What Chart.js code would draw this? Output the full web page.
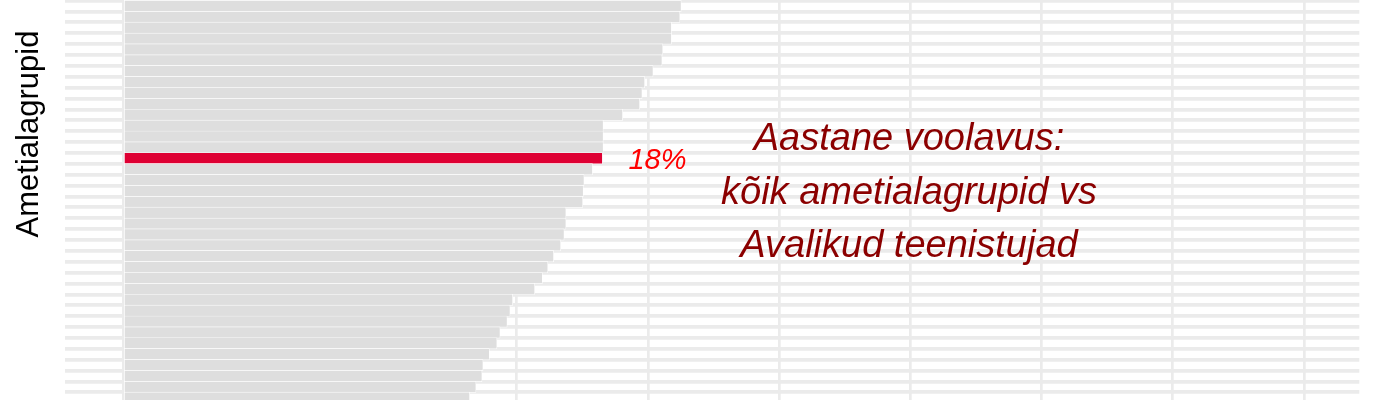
<!DOCTYPE html>
<html>
<head>
<meta charset="utf-8">
<script src="https://cdn.jsdelivr.net/npm/chart.js@4"></script>
<style>
  html, body { margin: 0; padding: 0; background: #fff; }
  #wrap { width: 1400px; height: 400px; }
</style>
</head>
<body>
<div id="wrap"><canvas id="myChart"></canvas></div>
<script>
// ametialagrupid, sorted by yearly turnover (only the visible part of the chart)
const categories = [
  "Grupp 01", "Grupp 02", "Grupp 03", "Grupp 04", "Grupp 05", "Grupp 06",
  "Grupp 07", "Grupp 08", "Grupp 09", "Grupp 10", "Grupp 11", "Grupp 12",
  "Grupp 13", "Grupp 14", "Avalikud teenistujad", "Grupp 16", "Grupp 17",
  "Grupp 18", "Grupp 19", "Grupp 20", "Grupp 21", "Grupp 22", "Grupp 23",
  "Grupp 24", "Grupp 25", "Grupp 26", "Grupp 27", "Grupp 28", "Grupp 29",
  "Grupp 30", "Grupp 31", "Grupp 32", "Grupp 33", "Grupp 34", "Grupp 35",
  "Grupp 36", "Grupp 37"
];
const voolavus = [
  21.27, 21.22, 20.90, 20.90, 20.57, 20.54, 20.20, 19.88, 19.78, 19.69,
  19.04, 18.30, 18.30, 18.30, 18.27, 17.89, 17.57, 17.54, 17.52, 16.88,
  16.88, 16.81, 16.68, 16.41, 16.19, 15.98, 15.69, 14.85, 14.75, 14.64,
  14.37, 14.25, 13.96, 13.72, 13.68, 13.45, 13.21
];
const highlight = "Avalikud teenistujad";
const highlightLabel = "18%";
const xTicks = [0, 5, 10, 15, 20, 25, 30, 35, 40, 45];
const yTitle = "Ametialagrupid";
const noteLines = ["Aastane voolavus:", "kõik ametialagrupid vs", "Avalikud teenistujad"];

const hi = categories.indexOf(highlight);

const textPlugin = {
  id: "texts",
  afterDatasetsDraw(chart) {
    const ctx = chart.ctx;
    const x = chart.scales.x, y = chart.scales.y;
    ctx.save();
    // label next to the highlighted bar
    ctx.fillStyle = "#ff0000";
    ctx.font = "italic 29px 'Liberation Sans', Arial, sans-serif";
    ctx.textAlign = "left";
    ctx.textBaseline = "alphabetic";
    ctx.fillText(highlightLabel, x.getPixelForValue(voolavus[hi]) + 26, y.getPixelForValue(hi) + 11);

    // annotation
    ctx.fillStyle = "#8b0000";
    ctx.font = "italic 38px 'Liberation Sans', Arial, sans-serif";
    ctx.textAlign = "center";
    noteLines.forEach((t, i) => ctx.fillText(t, 909, 150 + i * 53.5));

    // y axis title
    ctx.translate(29, 134);
    ctx.rotate(-Math.PI / 2);
    ctx.fillStyle = "#000";
    ctx.font = "31px 'Liberation Sans', Arial, sans-serif";
    ctx.textBaseline = "middle";
    ctx.fillText(yTitle, 0, 0);
    ctx.restore();
  }
};

const config = {
  type: "bar",
  data: {
    labels: categories,
    datasets: [{
      data: voolavus.map((v, i) => ({ x: v, y: i })),
      backgroundColor: categories.map(c => c === highlight ? "#de0033" : "#dedede"),
      barThickness: 11.18,
      borderWidth: 0.7,
      borderColor: "#ffffff",
      borderSkipped: false
    }]
  },
  options: {
    indexAxis: "y",
    responsive: true,
    maintainAspectRatio: false,
    devicePixelRatio: 1,
    animation: false,
    layout: { padding: { left: 65, right: 40.7, top: 0, bottom: 0 } },
    plugins: { legend: { display: false }, tooltip: { enabled: false } },
    scales: {
      x: {
        type: "linear",
        min: -2.21,
        max: 47.11,
        afterBuildTicks: s => { s.ticks = xTicks.map(v => ({ value: v })); },
        afterFit: s => { s.height = 0; },
        ticks: { display: false },
        border: { display: false },
        grid: { color: "#ebebeb", lineWidth: 2.7, drawTicks: false }
      },
      y: {
        type: "linear",
        reverse: true,
        min: -0.054,
        max: 35.71,
        afterBuildTicks: s => { s.ticks = categories.map((c, i) => ({ value: i })); },
        afterFit: s => { s.width = 0; },
        ticks: { display: false },
        border: { display: false },
        grid: { color: "#ebebeb", lineWidth: 3.7, drawTicks: false }
      }
    }
  },
  plugins: [textPlugin]
};

var myChart = new Chart(document.getElementById("myChart"), config);
</script>
</body>
</html>
